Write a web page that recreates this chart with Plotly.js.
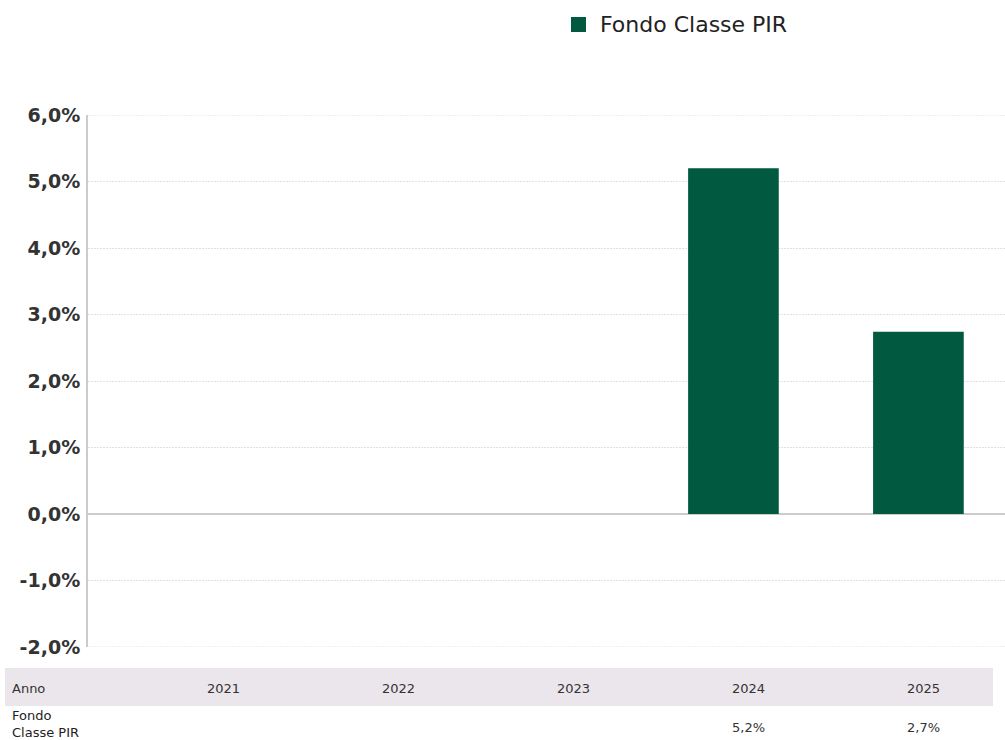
<!DOCTYPE html>
<html>
<head>
<meta charset="utf-8">
<script src="https://cdn.plot.ly/plotly-3.0.1.min.js"></script>
<style>
html,body{margin:0;padding:0;background:#fff;overflow:hidden;}
#chart{width:1005px;height:740px;}
</style>
</head>
<body>
<div id="chart"></div>
<script>
// Data
const years = ['2021', '2022', '2023', '2024', '2025'];
const fundValues = [null, null, null, 5.2, 2.74];
const seriesName = 'Fondo Classe PIR';
const rowHeader = 'Anno';
const rowLabel = 'Fondo<br>Classe PIR';
const yTickVals = [-2, -1, 0, 1, 2, 3, 4, 5, 6];

function fmt(v) {
  return v.toFixed(1).replace('.', ',').replace('\u2212', '-') + '%';
}
const yTickText = yTickVals.map(fmt);

// Layout helpers (pixel -> paper)
const W = 1005, H = 740, L = 88, R = 0, T = 115, B = 93;
const PW = W - L - R, PH = H - T - B;
const px = x => (x - L) / PW;
const py = y => (H - B - y) / PH;

const FONT = 'Verdana, "DejaVu Sans", sans-serif';
const GREEN = '#01593f';
const GRID = '#e0e0e0';

const trace = {
  type: 'bar',
  x: years.map((_, i) => i),
  y: fundValues,
  name: seriesName,
  marker: {color: GREEN},
  width: 0.49,
  hoverinfo: 'none',
  showlegend: false
};

const yMin = yTickVals[0], yMax = yTickVals[yTickVals.length - 1];

const shapes = [
  // table header band
  {type: 'rect', xref: 'paper', yref: 'paper', x0: px(5), x1: px(993), y0: py(706), y1: py(668),
   fillcolor: '#ebe6ec', line: {width: 0}, layer: 'below'},
  // legend swatch
  {type: 'rect', xref: 'paper', yref: 'paper', x0: px(571), x1: px(586), y0: py(32), y1: py(17),
   fillcolor: GREEN, line: {width: 0}},
  // edge gridlines (top / bottom of range)
  {type: 'line', xref: 'paper', yref: 'y', x0: 0, x1: 1, y0: yMax, y1: yMax,
   line: {color: GRID, width: 1, dash: '2px,1px'}, layer: 'below'},
  {type: 'line', xref: 'paper', yref: 'y', x0: 0, x1: 1, y0: yMin, y1: yMin,
   line: {color: GRID, width: 1, dash: '2px,1px'}, layer: 'below'}
];

const annotations = [
  {xref: 'paper', yref: 'paper', x: px(598), y: py(25), xanchor: 'left', yanchor: 'middle',
   text: seriesName, showarrow: false, font: {family: FONT, size: 22, color: '#222'}},
  {xref: 'paper', yref: 'paper', x: px(10), y: py(688), xanchor: 'left', yanchor: 'middle',
   text: rowHeader, showarrow: false, font: {family: FONT, size: 13, color: '#333'}},
  {xref: 'paper', yref: 'paper', x: px(10), y: py(724), xanchor: 'left', yanchor: 'middle', align: 'left',
   text: rowLabel, showarrow: false, font: {family: FONT, size: 13, color: '#222'}}
];
years.forEach((yr, i) => {
  annotations.push({xref: 'x2', yref: 'paper', x: i, y: py(688), xanchor: 'center', yanchor: 'middle',
    text: yr, showarrow: false, font: {family: FONT, size: 13, color: '#333'}});
  if (fundValues[i] !== null) {
    annotations.push({xref: 'x2', yref: 'paper', x: i, y: py(727), xanchor: 'center', yanchor: 'middle',
      text: fmt(fundValues[i]), showarrow: false, font: {family: FONT, size: 13, color: '#333'}});
  }
});

const layout = {
  width: W, height: H,
  margin: {l: L, r: R, t: T, b: B},
  paper_bgcolor: '#fff', plot_bgcolor: '#fff',
  font: {family: FONT, color: '#333'},
  showlegend: false,
  xaxis: {type: 'linear', range: [-0.489, 4.468], showgrid: false, zeroline: false,
    showticklabels: false, ticks: '', showline: false, fixedrange: true},
  xaxis2: {type: 'linear', range: [-0.777, 4.463], overlaying: 'x', visible: false, fixedrange: true},
  yaxis: {range: [yMin, yMax], tickvals: yTickVals, ticktext: yTickText,
    tickfont: {family: FONT, size: 19, color: '#333', weight: 'bold'},
    showgrid: true, gridcolor: GRID, griddash: '2px,1px', gridwidth: 1,
    zeroline: true, zerolinecolor: '#cccccc', zerolinewidth: 2,
    showline: true, linecolor: '#cccccc', linewidth: 2, ticks: '', ticklabelstandoff: 2,
    fixedrange: true},
  shapes: shapes,
  annotations: annotations
};

Plotly.newPlot('chart', [trace], layout, {displayModeBar: false, staticPlot: true});
</script>
</body>
</html>
